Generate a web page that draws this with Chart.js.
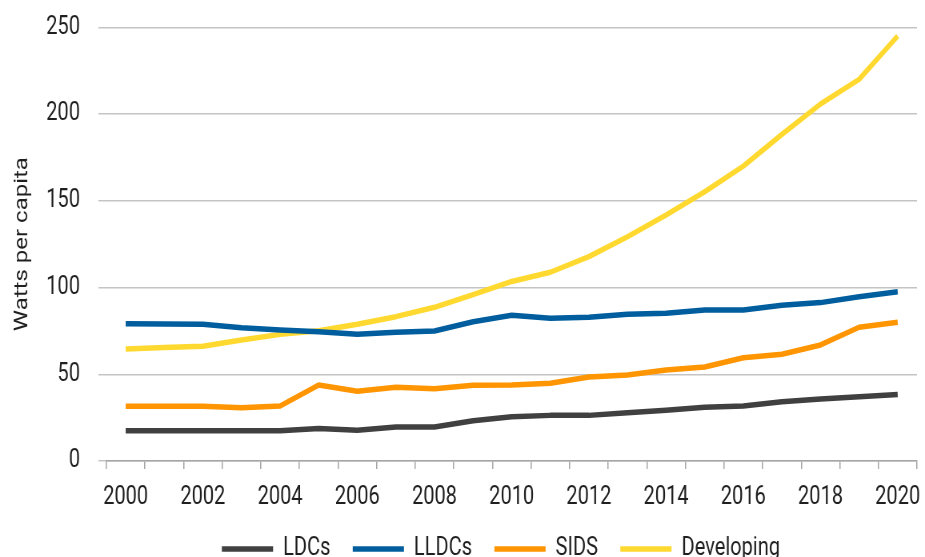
<!DOCTYPE html>
<html>
<head>
<meta charset="utf-8">
<script src="https://cdn.jsdelivr.net/npm/chart.js@4.4.1/dist/chart.umd.min.js"></script>
<style>
  html, body { margin: 0; padding: 0; background: #fff; }
</style>
</head>
<body>
<!-- drawn wide, shown narrow: gives the condensed lettering -->
<canvas id="capacity" width="1156" height="557" style="display:block;width:925px;height:557px"></canvas>
<script>
const years = ['2000', '2001', '2002', '2003', '2004', '2005', '2006', '2007', '2008', '2009', '2010',
	'2011', '2012', '2013', '2014', '2015', '2016', '2017', '2018', '2019', '2020'];

const ldcs = [17.5, 17.5, 17.5, 17.5, 17.5, 18.8, 17.7, 19.6, 19.6, 23.2, 25.5,
	26.3, 26.3, 27.8, 29.2, 31, 31.7, 34.2, 35.7, 37, 38.4];
const lldcs = [79.1, 79, 78.8, 76.8, 75.5, 74.5, 73, 74.2, 74.9, 80.3, 84,
	82.3, 82.8, 84.6, 85.1, 87, 87, 89.8, 91.3, 94.7, 97.6];
const sids = [31.5, 31.5, 31.5, 30.7, 31.7, 43.8, 40.2, 42.5, 41.7, 43.6, 43.8,
	44.8, 48.4, 49.6, 52.5, 54.2, 59.5, 61.5, 66.9, 77.1, 80];
const developing = [64.6, 65.4, 66.1, 69.7, 73, 75.1, 78.8, 83.2, 88.6, 95.9, 103.5,
	108.8, 117.8, 129.3, 141.8, 155.2, 170, 188.3, 205.8, 220, 245];

const textColor = '#1f1f1f';
const gridColor = '#c4c4c4';

function series(label, data, color) {
	return {
		label: label,
		data: data,
		borderColor: color,
		backgroundColor: color,
		borderWidth: 5.5,
		borderJoinStyle: 'round',
		pointRadius: 0,
		pointHoverRadius: 0,
		tension: 0
	};
}

// move the legend under the plot and pull it up closer to the year labels
const legendShift = {
	id: 'legendShift',
	afterLayout(chart) {
		const lg = chart.legend;
		lg.left += 53;
		lg.right += 53;
		lg.top -= 17.5;
		lg.bottom -= 17.5;
	}
};

const ctx = document.getElementById('capacity').getContext('2d');

const capacityChart = new Chart(ctx, {
	type: 'line',
	data: {
		labels: years,
		datasets: [
			series('LDCs', ldcs, '#404040'),
			series('LLDCs', lldcs, '#005e9e'),
			series('SIDS', sids, '#ff9500'),
			series('Developing', developing, '#ffd92f')
		]
	},
	options: {
		responsive: false,
		animation: false,
		layout: {
			padding: {top: 27.3, right: 10, bottom: -32, left: 0}
		},
		plugins: {
			legend: {
				position: 'bottom',
				labels: {
					usePointStyle: true,
					pointStyle: 'line',
					pointStyleWidth: 64,
					padding: 28,
					color: textColor,
					font: {family: 'Roboto', size: 25}
				}
			},
			tooltip: {enabled: false}
		},
		scales: {
			x: {
				offset: true,
				grid: {
					offset: true,
					drawOnChartArea: false,
					drawTicks: true,
					tickLength: 8,
					color: '#a6a6a6',
					lineWidth: 1.5
				},
				border: {display: true, color: '#a6a6a6', width: 1.5},
				ticks: {
					autoSkip: false,
					maxRotation: 0,
					padding: 0,
					color: textColor,
					font: {family: 'Roboto', size: 25, lineHeight: '57px'},
					callback: function(value, index) {
						return index % 2 === 0 ? this.getLabelForValue(value) : '';
					}
				}
			},
			y: {
				min: 0,
				max: 250,
				border: {display: false},
				grid: {
					color: gridColor,
					lineWidth: 1.5,
					tickLength: 10
				},
				ticks: {
					stepSize: 50,
					padding: 23,
					color: textColor,
					font: {family: 'Roboto', size: 25, lineHeight: 0.3}
				},
				title: {
					display: true,
					text: 'Watts per capita',
					color: textColor,
					padding: {top: 15.5, bottom: -4.7},
					font: {family: 'Roboto', size: 24, lineHeight: 1}
				}
			}
		}
	},
	plugins: [legendShift]
});
</script>
</body>
</html>
